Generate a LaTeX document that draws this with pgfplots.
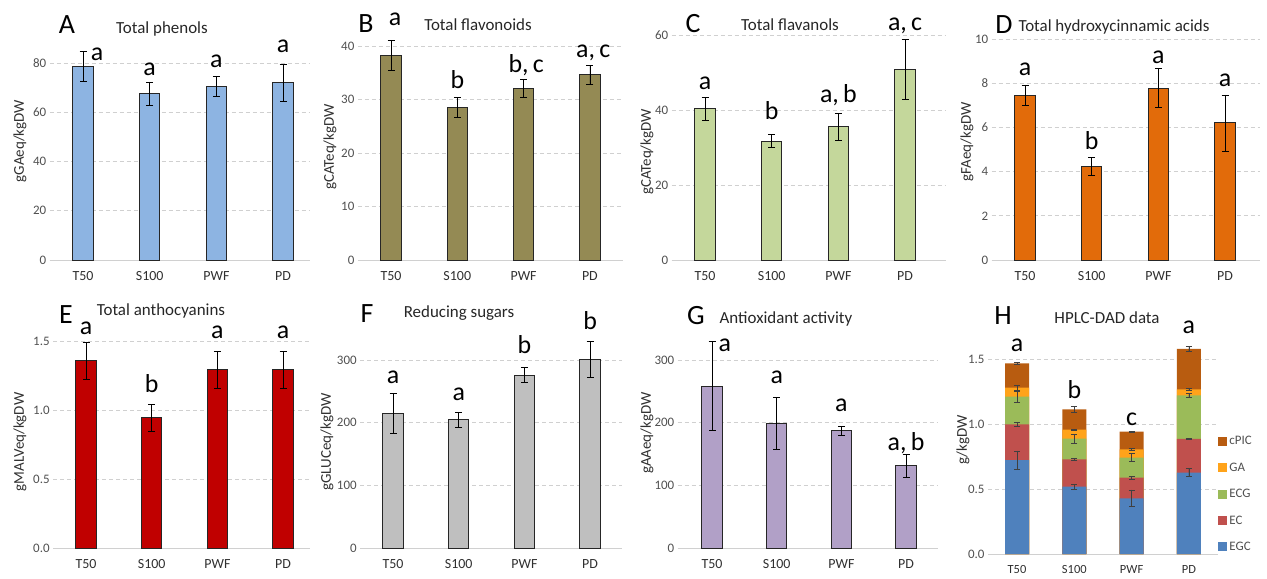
\documentclass[border=0pt]{standalone}
\usepackage{fontspec}
\setmainfont{Carlito}
\usepackage{pgfplots}
\pgfplotsset{compat=1.18}
\definecolor{gridgray}{HTML}{D0D0D0}
\definecolor{tickgray}{HTML}{505050}
\definecolor{xgray}{HTML}{303030}
\definecolor{outl}{HTML}{262626}
\definecolor{cA}{HTML}{8DB4E2}
\definecolor{cB}{HTML}{948A54}
\definecolor{cC}{HTML}{C4D79B}
\definecolor{cD}{HTML}{E26B0A}
\definecolor{cE}{HTML}{C00000}
\definecolor{cF}{HTML}{BFBFBF}
\definecolor{cG}{HTML}{B1A0C7}
\definecolor{egc}{HTML}{4F81BD}
\definecolor{ec}{HTML}{C0504D}
\definecolor{ecg}{HTML}{9BBB59}
\definecolor{ga}{HTML}{FFA31A}
\definecolor{cpic}{HTML}{B85C10}
\definecolor{errgray}{HTML}{404040}
\pgfplotsset{
 panel/.style={
  ybar, bar width=20.5bp, bar shift=0pt,
  xmin=-0.5, xmax=3.45, ymin=0,
  xtick={0,1,2,3}, xticklabels={T50,S100,PWF,PD},
  axis x line=bottom, axis y line=left,
  x axis line style={-, draw=gridgray, line width=0.9bp},
  y axis line style={draw=none},
  major tick length=0pt,
  ymajorgrids,
  grid style={dash pattern=on 4bp off 3bp, draw=gridgray, line width=0.8bp},
  yticklabel style={font=\fontsize{13}{13}\selectfont, text=tickgray},
  xticklabel style={font=\fontsize{14}{14}\selectfont, text=xgray, yshift=-8bp},
  /pgf/number format/assume math mode=true,
  clip=false,
  every axis plot/.append style={draw=outl, line width=1bp},
  error bars/y dir=both, error bars/y explicit,
  error bars/error bar style={black, line width=0.8bp},
  error bars/error mark options={rotate=90, mark size=3.5bp, line width=0.8bp, black},
 },
}
\newcommand{\sig}[3]{\node[anchor=base, inner sep=0pt, font=\fontsize{26}{26}\selectfont] at (axis cs:#1,#2) {#3};}
\newcommand{\plet}[3]{\node[anchor=base, inner sep=0pt, font=\fontsize{28}{28}\selectfont] at (#1bp,-#2bp) {#3};}
\newcommand{\ptit}[3]{\node[anchor=base, inner sep=0pt, font=\fontsize{17}{17}\selectfont, text=outl] at (#1bp,-#2bp) {#3};}
\newcommand{\ylab}[3]{\node[rotate=90, inner sep=0pt, font=\fontsize{15}{15}\selectfont, text=xgray] at (#1bp,-#2bp) {#3};}
\begin{document}
\begin{tikzpicture}
\useasboundingbox (0,0) rectangle (1267bp,-579bp);
% A
\begin{axis}[panel, at={(83bp,-260bp)}, anchor=origin, x=66.7bp, y=2.4625bp, ymax=90, ytick={0,20,40,60,80}, xmax=3.4]
\addplot[fill=cA] coordinates {(0,78.6) +- (0,6.2) (1,67.5) +- (0,4.8) (2,70.4) +- (0,4.0) (3,72.0) +- (0,7.6)};
\sig{0.21}{81.2}{a}\sig{1}{75.1}{a}\sig{2}{78}{a}\sig{3}{84.1}{a}
\end{axis}
% B
\begin{axis}[panel, at={(391bp,-260bp)}, anchor=origin, x=66.3bp, y=5.35bp, ymax=44, ytick={0,10,20,30,40}, xmax=3.5]
\addplot[fill=cB] coordinates {(0,38.3) +- (0,2.8) (1,28.5) +- (0,1.8) (2,32.1) +- (0,1.7) (3,34.6) +- (0,1.8)};
\sig{0.06}{43.9}{a}\sig{1}{32.1}{b}\sig{2.04}{35.1}{b,\,c}\sig{3.05}{37.9}{a,\,c}
\end{axis}
% C
\begin{axis}[panel, at={(705bp,-260bp)}, anchor=origin, x=66.7bp, y=3.75bp, ymax=62, ytick={0,20,40,60}, xmax=3.6]
\addplot[fill=cC] coordinates {(0,40.3) +- (0,3.0) (1,31.7) +- (0,1.8) (2,35.6) +- (0,3.6) (3,50.8) +- (0,8.0)};
\sig{0}{45.6}{a}\sig{1}{37.6}{b}\sig{2}{42.1}{a,\,b}\sig{3}{61.3}{a,\,c}
\end{axis}
% D
\begin{axis}[panel, at={(1025bp,-260bp)}, anchor=origin, x=66.7bp, y=22.1bp, ymax=10.5, ytick={0,2,4,6,8,10}, xmax=3.53]
\addplot[fill=cD] coordinates {(0,7.45) +- (0,0.47) (1,4.23) +- (0,0.42) (2,7.78) +- (0,0.89) (3,6.2) +- (0,1.27)};
\sig{0}{8.33}{a}\sig{1}{4.98}{b}\sig{2}{8.9}{a}\sig{3}{7.87}{a}
\end{axis}
% E
\begin{axis}[panel, at={(86bp,-548bp)}, anchor=origin, x=65.7bp, y=138bp, ymax=1.6, ytick={0,0.5,1,1.5}, xmax=3.41,
  yticklabel style={/pgf/number format/.cd, fixed, fixed zerofill, precision=1}]
\addplot[fill=cE] coordinates {(0,1.357) +- (0,0.136) (1,0.944) +- (0,0.097) (2,1.29) +- (0,0.133) (3,1.29) +- (0,0.133)};
\sig{0}{1.55}{a}\sig{1}{1.13}{b}\sig{2}{1.515}{a}\sig{3}{1.515}{a}
\end{axis}
% F
\begin{axis}[panel, at={(393bp,-548bp)}, anchor=origin, x=65.7bp, y=0.6267bp, ymax=350, ytick={0,100,200,300}, xmax=3.49]
\addplot[fill=cF] coordinates {(0,214.7) +- (0,32) (1,205) +- (0,12) (2,276) +- (0,12) (3,301) +- (0,28)};
\sig{0}{263}{a}\sig{1}{234.6}{a}\sig{2}{309.6}{b}\sig{3}{348}{b}
\end{axis}
% G
\begin{axis}[panel, at={(712bp,-548bp)}, anchor=origin, x=64.7bp, y=0.6267bp, ymax=340, ytick={0,100,200,300}, xmin=-0.53, xmax=3.49]
\addplot[fill=cG] coordinates {(0,258.4) +- (0,71) (1,198.7) +- (0,41) (2,187) +- (0,7.5) (3,131) +- (0,19)};
\sig{0.2}{314}{a}\sig{1}{261.7}{a}\sig{2}{218.6}{a}\sig{3}{154.8}{a,\,b}
\end{axis}
% H
\begin{axis}[panel, at={(1017bp,-554bp)}, anchor=origin, x=57.3bp, y=130bp, ymax=1.75, ytick={0,0.5,1,1.5}, xmin=-0.506, xmax=3.5,
  bar width=24bp,
  yticklabel style={/pgf/number format/.cd, fixed, fixed zerofill, precision=1},
  xticklabel style={font=\fontsize{12.5}{12.5}\selectfont},
  every axis plot/.append style={draw=none},
  error bars/error bar style={draw=errgray, line width=0.8bp},
  error bars/error mark options={rotate=90, mark size=3bp, line width=0.8bp, draw=errgray},
  legend style={at={(axis description cs:0.99,0.535)}, anchor=north west, draw=none, fill=none,
    font=\fontsize{13}{13}\selectfont, text=tickgray, row sep=12.5bp, cells={anchor=west}},
  legend image code/.code={\fill[#1] (0bp,-4.5bp) rectangle (9bp,4.5bp);}]
\addplot[fill=cpic] coordinates {(0,1.467) +- (0,0.005) (1,1.113) +- (0,0.02) (2,0.941) +- (0,0.005) (3,1.577) +- (0,0.02)};
\addplot[fill=ga] coordinates {(0,1.28) +- (0,0.02) (1,0.956) +- (0,0.005) (2,0.805) +- (0,0.005) (3,1.267) +- (0,0.005)};
\addplot[fill=ecg] coordinates {(0,1.21) +- (0,0.04) (1,0.887) +- (0,0.035) (2,0.741) +- (0,0.03) (3,1.22) +- (0,0.015)};
\addplot[fill=ec] coordinates {(0,0.997) +- (0,0.015) (1,0.728) +- (0,0.01) (2,0.587) +- (0,0.01) (3,0.885) +- (0,0.005)};
\addplot[fill=egc] coordinates {(0,0.723) +- (0,0.07) (1,0.518) +- (0,0.02) (2,0.428) +- (0,0.065) (3,0.626) +- (0,0.03)};
\legend{cPIC,GA,ECG,EC,EGC}
\sig{0}{1.56}{a}\sig{1}{1.2}{b}\sig{2}{0.99}{c}\sig{3}{1.7}{a}
\end{axis}
% letters and titles
\plet{67}{33}{A}\ptit{162}{33}{Total phenols}
\plet{366}{32}{B}\ptit{478}{30}{Total flavonoids}
\plet{693}{32}{C}\ptit{790}{30}{Total flavanols}
\plet{1004}{33}{D}\ptit{1114}{31}{Total hydroxycinnamic acids}
\plet{66}{323}{E}\ptit{161}{315}{Total anthocyanins}
\plet{367}{322}{F}\ptit{459}{317}{Reducing sugars}
\plet{696}{324}{G}\ptit{786}{323}{Antioxidant activity}
\plet{1003}{324}{H}\ptit{1107}{323}{HPLC-DAD data}
\ylab{20}{141}{gGAeq/kgDW}
\ylab{330}{147}{gCATeq/kgDW}
\ylab{647}{152}{gCATeq/kgDW}
\ylab{967}{142}{gFAeq/kgDW}
\ylab{20}{442}{gMALVeq/kgDW}
\ylab{327}{442}{gGLUCeq/kgDW}
\ylab{647}{433}{gAAeq/kgDW}
\ylab{963}{440}{g/kgDW}
\end{tikzpicture}
\end{document}
